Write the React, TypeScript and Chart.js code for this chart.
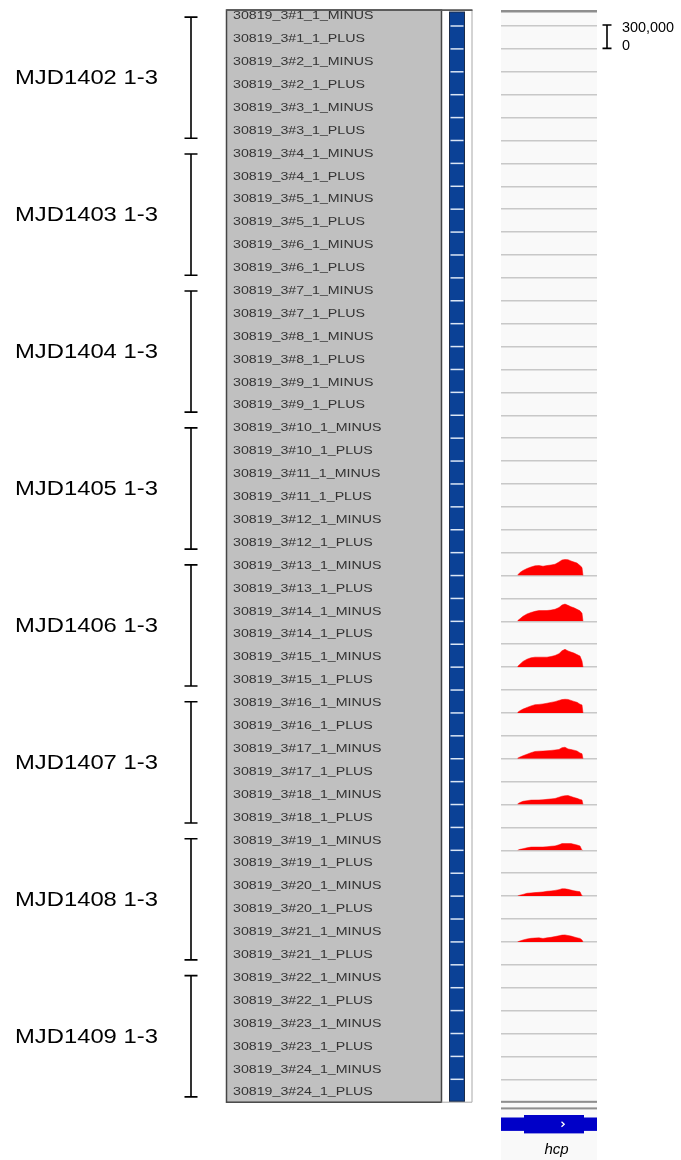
import { useEffect, useRef } from 'react';
import { Chart, registerables } from 'chart.js';

Chart.register(...registerables);

// ---------------- data ----------------
const sampleNames = [
  '30819_3#1_1_MINUS', '30819_3#1_1_PLUS', '30819_3#2_1_MINUS', '30819_3#2_1_PLUS',
  '30819_3#3_1_MINUS', '30819_3#3_1_PLUS', '30819_3#4_1_MINUS', '30819_3#4_1_PLUS',
  '30819_3#5_1_MINUS', '30819_3#5_1_PLUS', '30819_3#6_1_MINUS', '30819_3#6_1_PLUS',
  '30819_3#7_1_MINUS', '30819_3#7_1_PLUS', '30819_3#8_1_MINUS', '30819_3#8_1_PLUS',
  '30819_3#9_1_MINUS', '30819_3#9_1_PLUS', '30819_3#10_1_MINUS', '30819_3#10_1_PLUS',
  '30819_3#11_1_MINUS', '30819_3#11_1_PLUS', '30819_3#12_1_MINUS', '30819_3#12_1_PLUS',
  '30819_3#13_1_MINUS', '30819_3#13_1_PLUS', '30819_3#14_1_MINUS', '30819_3#14_1_PLUS',
  '30819_3#15_1_MINUS', '30819_3#15_1_PLUS', '30819_3#16_1_MINUS', '30819_3#16_1_PLUS',
  '30819_3#17_1_MINUS', '30819_3#17_1_PLUS', '30819_3#18_1_MINUS', '30819_3#18_1_PLUS',
  '30819_3#19_1_MINUS', '30819_3#19_1_PLUS', '30819_3#20_1_MINUS', '30819_3#20_1_PLUS',
  '30819_3#21_1_MINUS', '30819_3#21_1_PLUS', '30819_3#22_1_MINUS', '30819_3#22_1_PLUS',
  '30819_3#23_1_MINUS', '30819_3#23_1_PLUS', '30819_3#24_1_MINUS', '30819_3#24_1_PLUS',
];

const groupLabels = [
  'MJD1402 1-3', 'MJD1403 1-3', 'MJD1404 1-3', 'MJD1405 1-3',
  'MJD1406 1-3', 'MJD1407 1-3', 'MJD1408 1-3', 'MJD1409 1-3',
];
const ROWS_PER_GROUP = 6;

// genomic positions (bp, relative to view start)
const viewStart = 0;
const viewEnd = 960;
const positions = [165, 190, 220, 260, 300, 340, 380, 420, 460, 500, 540, 580, 610, 640, 670, 700, 730, 760, 790, 810, 820];

const cov13Minus = [5000, 40000, 66000, 92000, 112000, 127000, 131000, 122000, 131000, 138000, 148000, 177000, 204000, 210000, 208000, 191000, 177000, 164000, 131000, 105000, 0];
const cov14Minus = [7000, 33000, 66000, 97000, 116000, 131000, 141000, 141000, 142000, 147000, 158000, 181000, 214000, 226000, 210000, 191000, 177000, 158000, 138000, 105000, 0];
const cov15Minus = [7000, 39000, 75000, 105000, 122000, 131000, 131000, 131000, 131000, 139000, 152000, 177000, 214000, 233000, 213000, 197000, 184000, 164000, 145000, 79000, 0];
const cov16Minus = [7000, 30000, 50000, 72000, 92000, 108000, 112000, 118000, 127000, 138000, 148000, 164000, 175000, 179000, 177000, 164000, 151000, 139000, 114000, 105000, 0];
const cov17Minus = [7000, 22000, 39000, 59000, 79000, 95000, 99000, 100000, 104000, 109000, 114000, 122000, 145000, 151000, 129000, 120000, 112000, 101000, 75000, 66000, 0];
const cov18Minus = [7000, 26000, 42000, 51000, 58000, 59000, 60000, 63000, 68000, 74000, 79000, 96000, 109000, 116000, 118000, 105000, 92000, 81000, 66000, 59000, 0];
const cov19Minus = [0, 13000, 21000, 33000, 42000, 43000, 43000, 43000, 47000, 53000, 58000, 72000, 88000, 88000, 88000, 88000, 79000, 70000, 57000, 0, 0];
const cov20Minus = [0, 13000, 22000, 37000, 42000, 46000, 50000, 55000, 63000, 68000, 75000, 85000, 96000, 95000, 89000, 79000, 70000, 63000, 57000, 0, 0];
const cov21Minus = [0, 13000, 25000, 39000, 47000, 51000, 53000, 45000, 53000, 60000, 70000, 81000, 89000, 92000, 84000, 76000, 66000, 53000, 46000, 26000, 0];

const coverage = [
  { sample: '30819_3#13_1_MINUS', values: cov13Minus },
  { sample: '30819_3#14_1_MINUS', values: cov14Minus },
  { sample: '30819_3#15_1_MINUS', values: cov15Minus },
  { sample: '30819_3#16_1_MINUS', values: cov16Minus },
  { sample: '30819_3#17_1_MINUS', values: cov17Minus },
  { sample: '30819_3#18_1_MINUS', values: cov18Minus },
  { sample: '30819_3#19_1_MINUS', values: cov19Minus },
  { sample: '30819_3#20_1_MINUS', values: cov20Minus },
  { sample: '30819_3#21_1_MINUS', values: cov21Minus },
];

const dataRangeMax = 300000;
const dataRangeLabels = ['300,000', '0'];

const geneName = 'hcp';
const geneStart = -300;
const geneEnd = 1300;
const cdsStart = 230;
const cdsEnd = 830;
const geneArrowAt = 620;

// ---------------- drawing helpers ----------------
const FONT = '"Liberation Sans", Arial, Helvetica, sans-serif';

function stretchedText(ctx: CanvasRenderingContext2D, text: string, x: number, y: number, sx: number) {
  ctx.save();
  ctx.translate(x, y);
  ctx.scale(sx, 1);
  ctx.fillText(text, 0, 0);
  ctx.restore();
}

const igvPlugin = {
  id: 'igvDecor',
  beforeDraw(chart: any) {
    const { ctx, chartArea: a, height } = chart;
    ctx.save();
    ctx.fillStyle = '#f9f9f9';
    ctx.fillRect(a.left, 10, a.right - a.left, height - 10);
    ctx.restore();
  },
  afterDraw(chart: any) {
    const { ctx, chartArea: a, scales, height } = chart;
    const n = sampleNames.length;
    const t = (i: number) => scales['t' + i];
    const rowTop = (i: number) => t(i).top;
    const rowBottom = (i: number) => t(i).bottom;
    const rowMid = (i: number) => (t(i).top + t(i).bottom) / 2;
    const panelTop = 10;
    const panelBottom = rowBottom(n - 1);

    ctx.save();

    // ---- sample name panel ----
    const pL = 226.5, pR = 441.5;
    ctx.fillStyle = '#c0c0c0';
    ctx.fillRect(pL, panelTop, pR - pL, panelBottom - panelTop);
    ctx.save();
    ctx.beginPath();
    ctx.rect(pL, panelTop + 1, pR - pL, panelBottom - panelTop - 2);
    ctx.clip();
    ctx.fillStyle = '#333333';
    ctx.font = `11.5px ${FONT}`;
    ctx.textBaseline = 'middle';
    ctx.textAlign = 'left';
    for (let i = 0; i < n; i++) {
      stretchedText(ctx, sampleNames[i], 233, rowMid(i) + 1.5, 1.235);
    }
    ctx.restore();
    ctx.strokeStyle = '#454545';
    ctx.lineWidth = 1.5;
    ctx.strokeRect(pL, panelTop, pR - pL, panelBottom - panelTop);

    // ---- attribute (blue) strip box ----
    ctx.strokeStyle = '#a8a8a8';
    ctx.lineWidth = 1;
    ctx.beginPath();
    ctx.moveTo(472, panelTop);
    ctx.lineTo(472, panelBottom);
    ctx.lineTo(pR, panelBottom);
    ctx.stroke();
    ctx.fillStyle = '#5a5a5a';
    ctx.fillRect(pL, panelTop - 0.8, 472 - pL + 0.5, 1.8);

    const bL = 449.5, bR = 464.5;
    ctx.fillStyle = '#0b4196';
    ctx.fillRect(bL, panelTop + 2, bR - bL, panelBottom - panelTop - 3);
    ctx.strokeStyle = '#1c2c48';
    ctx.lineWidth = 1;
    ctx.strokeRect(bL, panelTop + 2, bR - bL, panelBottom - panelTop - 3);
    ctx.strokeStyle = '#dbe6f5';
    ctx.lineWidth = 1.5;
    for (let i = 1; i < n; i++) {
      const y = rowTop(i);
      ctx.beginPath();
      ctx.moveTo(bL + 1, y);
      ctx.lineTo(bR - 1, y);
      ctx.stroke();
    }

    // ---- group brackets and labels ----
    ctx.strokeStyle = '#000000';
    ctx.fillStyle = '#000000';
    ctx.lineWidth = 1.6;
    ctx.font = `20px ${FONT}`;
    ctx.textBaseline = 'middle';
    for (let g = 0; g < groupLabels.length; g++) {
      const top = rowTop(g * ROWS_PER_GROUP) + 14 - g * 0.45;
      const bottom = rowBottom(g * ROWS_PER_GROUP + ROWS_PER_GROUP - 1) - 2.2 - g * 0.45;
      const bx = 191;
      ctx.beginPath();
      ctx.moveTo(bx, top);
      ctx.lineTo(bx, bottom);
      ctx.moveTo(bx - 6.5, top);
      ctx.lineTo(bx + 6.5, top);
      ctx.moveTo(bx - 6.5, bottom);
      ctx.lineTo(bx + 6.5, bottom);
      ctx.stroke();
      stretchedText(ctx, groupLabels[g], 15, (top + bottom) / 2 + 1, 1.19);
    }

    // ---- track panel top line & bottom double line ----
    ctx.fillStyle = '#8e8e8e';
    ctx.fillRect(a.left, 10, a.right - a.left, 2.5);
    ctx.fillRect(a.left, a.bottom - 1.4, a.right - a.left, 2);
    ctx.fillRect(a.left, a.bottom + 5.2, a.right - a.left, 2);

    // ---- data range legend ----
    const s1 = t(1);
    const yTop = s1.getPixelForValue(dataRangeMax) - 1;
    const yBot = s1.getPixelForValue(0) - 0.5;
    ctx.strokeStyle = '#000000';
    ctx.lineWidth = 1.6;
    ctx.beginPath();
    ctx.moveTo(607, yTop);
    ctx.lineTo(607, yBot);
    ctx.moveTo(602.5, yTop);
    ctx.lineTo(611.5, yTop);
    ctx.moveTo(602.5, yBot);
    ctx.lineTo(611.5, yBot);
    ctx.stroke();
    ctx.fillStyle = '#000000';
    ctx.font = `14px ${FONT}`;
    ctx.textBaseline = 'alphabetic';
    ctx.textAlign = 'left';
    stretchedText(ctx, dataRangeLabels[0], 622, yTop + 7.5, 1.03);
    stretchedText(ctx, dataRangeLabels[1], 622, yBot + 2, 1.03);

    // ---- gene track ----
    const x = scales.x;
    const gy = a.bottom + 22;
    ctx.save();
    ctx.beginPath();
    ctx.rect(a.left, a.bottom + 8, a.right - a.left, height - a.bottom);
    ctx.clip();
    ctx.fillStyle = '#0000c8';
    const gx0 = x.getPixelForValue(geneStart);
    const gx1 = x.getPixelForValue(geneEnd);
    ctx.fillRect(gx0, gy - 6.7, gx1 - gx0, 13.4);
    const cx0 = x.getPixelForValue(cdsStart);
    const cx1 = x.getPixelForValue(cdsEnd);
    ctx.fillRect(cx0, gy - 9.2, cx1 - cx0, 18.4);
    const ax = x.getPixelForValue(geneArrowAt);
    ctx.strokeStyle = '#ffffff';
    ctx.lineWidth = 1.3;
    ctx.beginPath();
    ctx.moveTo(ax - 1.5, gy - 2.5);
    ctx.lineTo(ax + 1.2, gy);
    ctx.lineTo(ax - 1.5, gy + 2.5);
    ctx.stroke();
    ctx.restore();

    ctx.fillStyle = '#000000';
    ctx.font = `italic 15px ${FONT}`;
    ctx.textAlign = 'center';
    ctx.textBaseline = 'alphabetic';
    ctx.fillText(geneName, 556.5, a.bottom + 52);

    ctx.restore();
  },
};

export default function App() {
  const canvasRef = useRef<HTMLCanvasElement | null>(null);

  useEffect(() => {
    if (!canvasRef.current) return;

    const scales: any = {
      x: { type: 'linear', axis: 'x', min: viewStart, max: viewEnd, display: false },
      yrows: {
        type: 'category',
        axis: 'y',
        position: 'left',
        labels: sampleNames,
        offset: true,
        weight: 0,
        display: true,
        ticks: { display: false },
        border: { display: false },
        grid: {
          offset: true,
          drawTicks: false,
          lineWidth: 1.5,
          color: (c: any) => (c.index === 0 || c.index === sampleNames.length ? 'rgba(0,0,0,0)' : '#c8c8c8'),
        },
      },
    };
    sampleNames.forEach((_, i) => {
      scales['t' + i] = {
        type: 'linear',
        axis: 'y',
        position: 'left',
        stack: 'tracks',
        stackWeight: 1,
        weight: sampleNames.length - i + 1,
        min: 0,
        max: dataRangeMax,
        display: false,
      };
    });

    const datasets = coverage.map((c) => ({
      type: 'line' as const,
      label: c.sample,
      data: positions.map((p, k) => ({ x: p, y: c.values[k] })),
      xAxisID: 'x',
      yAxisID: 't' + sampleNames.indexOf(c.sample),
      fill: 'origin',
      backgroundColor: '#ff0000',
      borderColor: '#ff0000',
      borderWidth: 0.5,
      pointRadius: 0,
      tension: 0,
    }));

    const chart = new Chart(canvasRef.current, {
      type: 'line',
      data: { datasets },
      options: {
        animation: false,
        responsive: false,
        devicePixelRatio: 1,
        layout: { padding: { left: 501, right: 84, top: 3.1, bottom: 57.8 } },
        scales,
        plugins: {
          legend: { display: false },
          tooltip: { enabled: false },
          title: { display: false },
        },
        events: [],
      },
      plugins: [igvPlugin],
    } as any);

    return () => chart.destroy();
  }, []);

  return (
    <div style={{ position: 'absolute', left: 0, top: 0, width: 681, height: 1160, background: '#ffffff' }}>
      <canvas ref={canvasRef} width={681} height={1160} style={{ display: 'block', width: 681, height: 1160 }} />
    </div>
  );
}
